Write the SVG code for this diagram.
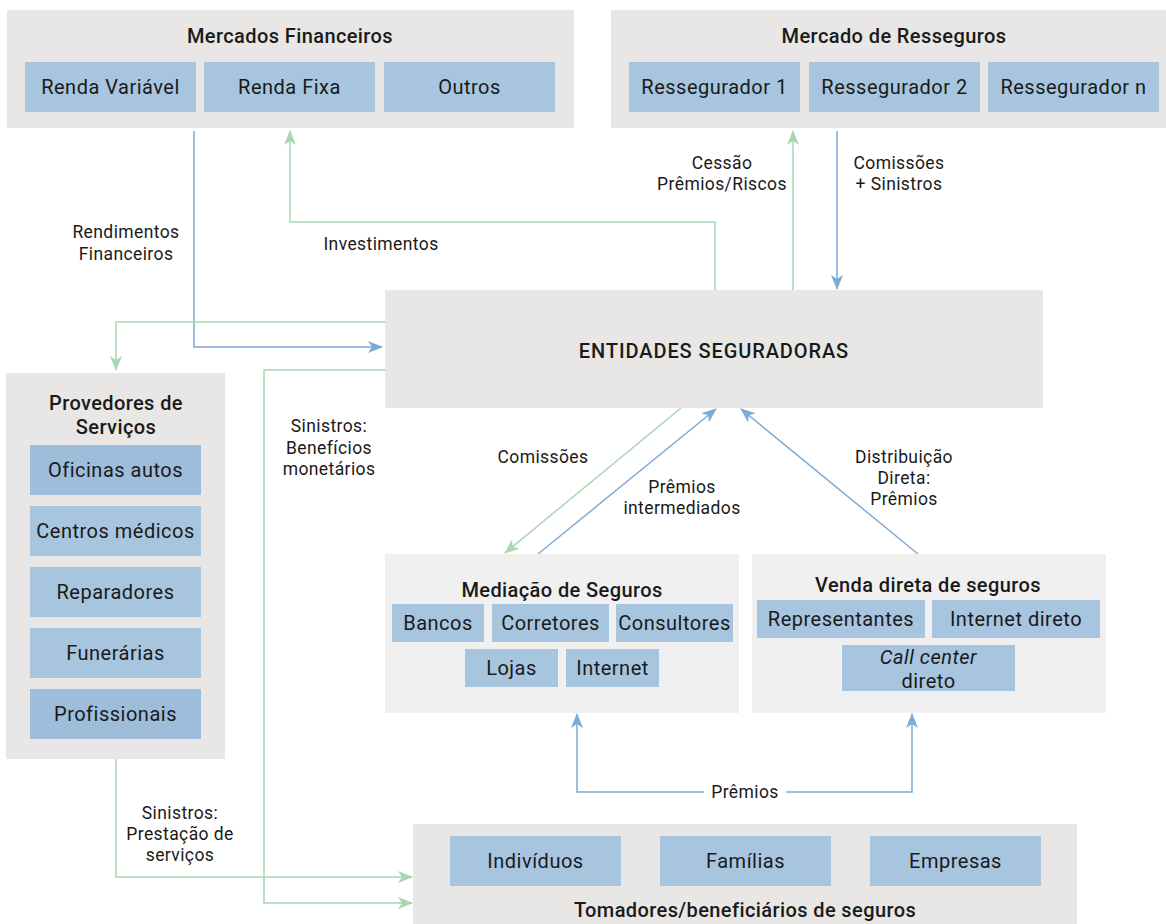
<svg xmlns="http://www.w3.org/2000/svg" width="1166" height="924" viewBox="0 0 1166 924">
<style>
.cont{fill:#e8e7e5}
.cont2{fill:#f0f0f0}
.box{fill:#a8c5e0}
.boxd{fill:#9dbddb}
text{font-family:Roboto,"Liberation Sans",sans-serif;fill:#1a1a1a;text-anchor:middle}
.t{font-size:20px;font-weight:500;letter-spacing:0.4px}
.b{font-size:20px;letter-spacing:0.5px}
.l{font-size:17.5px;letter-spacing:0.4px}
.g{fill:none;stroke:#a9d7b1;stroke-width:1.5}
.bl{fill:none;stroke:#7eabd4;stroke-width:1.5}
</style>
<defs>
<marker id="ag" markerUnits="userSpaceOnUse" markerWidth="16" markerHeight="12" refX="14" refY="6" orient="auto" viewBox="0 0 16 12">
<path d="M0,0 L15,6 L0,12 L4,6 z" fill="#a9d7b1"/>
</marker>
<marker id="ab" markerUnits="userSpaceOnUse" markerWidth="16" markerHeight="12" refX="14" refY="6" orient="auto" viewBox="0 0 16 12">
<path d="M0,0 L15,6 L0,12 L4,6 z" fill="#7eabd4"/>
</marker>
</defs>
<rect width="1166" height="924" fill="#ffffff"/>

<g id="connectors">
<path class="bl" d="M194,131 V347 H382" marker-end="url(#ab)"/>
<path class="g" d="M715,290 V222 H290 V131" marker-end="url(#ag)"/>
<path class="g" d="M793,290 V131" marker-end="url(#ag)"/>
<path class="bl" d="M837,131 V289" marker-end="url(#ab)"/>
<path class="g" d="M385,322 H116 V370" marker-end="url(#ag)"/>
<path class="g" d="M385,370 H264 V903 H412" marker-end="url(#ag)"/>
<path class="g" d="M116,757 V877 H412" marker-end="url(#ag)"/>
<path class="g" d="M681,408 L505,553" marker-end="url(#ag)"/>
<path class="bl" d="M538,554 L716,409" marker-end="url(#ab)"/>
<path class="bl" d="M918,554 L741,409" marker-end="url(#ab)"/>
<path class="bl" d="M704,792 H577 V714" marker-end="url(#ab)"/>
<path class="bl" d="M786,792 H912 V714" marker-end="url(#ab)"/>
<text class="l" x="126" y="238">Rendimentos</text>
<text class="l" x="126" y="260">Financeiros</text>
<text class="l" x="381" y="250">Investimentos</text>
<text class="l" x="722" y="169">Cessão</text>
<text class="l" x="722" y="190">Prêmios/Riscos</text>
<text class="l" x="899" y="169">Comissões</text>
<text class="l" x="899" y="190">+ Sinistros</text>
<text class="l" x="329" y="432">Sinistros:</text>
<text class="l" x="329" y="454">Benefícios</text>
<text class="l" x="329" y="475">monetários</text>
<text class="l" x="543" y="463">Comissões</text>
<text class="l" x="682" y="493">Prêmios</text>
<text class="l" x="682" y="514">intermediados</text>
<text class="l" x="904" y="463">Distribuição</text>
<text class="l" x="904" y="484">Direta:</text>
<text class="l" x="904" y="505">Prêmios</text>
<text class="l" x="745" y="798">Prêmios</text>
<text class="l" x="180" y="819">Sinistros:</text>
<text class="l" x="180" y="840">Prestação de</text>
<text class="l" x="180" y="861">serviços</text>
</g>

<g id="mercados-financeiros">
<rect class="cont" x="7" y="10" width="567" height="118"/>
<text class="t" x="290" y="43">Mercados Financeiros</text>
<rect class="box" x="25" y="62" width="171" height="50"/>
<text class="b" x="110.5" y="94">Renda Variável</text>
<rect class="box" x="204" y="62" width="171" height="50"/>
<text class="b" x="289.5" y="94">Renda Fixa</text>
<rect class="box" x="384" y="62" width="171" height="50"/>
<text class="b" x="469.5" y="94">Outros</text>
</g>

<g id="mercado-resseguros">
<rect class="cont" x="611" y="10" width="555" height="118"/>
<text class="t" x="894" y="43">Mercado de Resseguros</text>
<rect class="box" x="629" y="62" width="171" height="50"/>
<text class="b" x="714.5" y="94">Ressegurador 1</text>
<rect class="box" x="809" y="62" width="171" height="50"/>
<text class="b" x="894.5" y="94">Ressegurador 2</text>
<rect class="box" x="988" y="62" width="171" height="50"/>
<text class="b" x="1073.5" y="94">Ressegurador n</text>
</g>

<g id="entidades-seguradoras">
<rect class="cont" x="385" y="290" width="658" height="118"/>
<text class="t" x="714" y="358" style="letter-spacing:0.9px">ENTIDADES SEGURADORAS</text>
</g>

<g id="provedores-servicos">
<rect class="cont" x="6" y="373" width="219" height="386"/>
<text class="t" x="116" y="410">Provedores de</text>
<text class="t" x="116" y="434">Serviços</text>
<rect class="boxd" x="30" y="445" width="171" height="50"/>
<text class="b" x="115.5" y="477">Oficinas autos</text>
<rect class="box" x="30" y="506" width="171" height="50"/>
<text class="b" x="115.5" y="538">Centros médicos</text>
<rect class="box" x="30" y="567" width="171" height="50"/>
<text class="b" x="115.5" y="599">Reparadores</text>
<rect class="box" x="30" y="628" width="171" height="50"/>
<text class="b" x="115.5" y="660">Funerárias</text>
<rect class="boxd" x="30" y="689" width="171" height="50"/>
<text class="b" x="115.5" y="721">Profissionais</text>
</g>

<g id="mediacao-seguros">
<rect class="cont2" x="385" y="554" width="354" height="159"/>
<text class="t" x="562" y="597">Mediação de Seguros</text>
<rect class="box" x="392" y="604" width="92" height="38"/>
<text class="b" x="438" y="630">Bancos</text>
<rect class="box" x="492" y="604" width="117" height="38"/>
<text class="b" x="550.5" y="630">Corretores</text>
<rect class="box" x="616" y="604" width="117" height="38"/>
<text class="b" x="674.5" y="630">Consultores</text>
<rect class="box" x="465" y="649" width="93" height="38"/>
<text class="b" x="511.5" y="675">Lojas</text>
<rect class="box" x="566" y="649" width="93" height="38"/>
<text class="b" x="612.5" y="675">Internet</text>
</g>

<g id="venda-direta">
<rect class="cont2" x="752" y="554" width="354" height="159"/>
<text class="t" x="928" y="592">Venda direta de seguros</text>
<rect class="box" x="757" y="600" width="168" height="38"/>
<text class="b" x="841" y="626">Representantes</text>
<rect class="box" x="932" y="600" width="168" height="38"/>
<text class="b" x="1016" y="626">Internet direto</text>
<rect class="box" x="842" y="645" width="173" height="46"/>
<text class="b" x="928.5" y="664" font-style="italic">Call center</text>
<text class="b" x="928.5" y="688">direto</text>
</g>

<g id="tomadores">
<rect class="cont" x="413" y="824" width="664" height="100"/>
<rect class="box" x="450" y="836" width="171" height="50"/>
<text class="b" x="535.5" y="868">Indivíduos</text>
<rect class="box" x="660" y="836" width="171" height="50"/>
<text class="b" x="745.5" y="868">Famílias</text>
<rect class="box" x="870" y="836" width="171" height="50"/>
<text class="b" x="955.5" y="868">Empresas</text>
<text class="t" x="745" y="917">Tomadores/beneficiários de seguros</text>
</g>
</svg>
